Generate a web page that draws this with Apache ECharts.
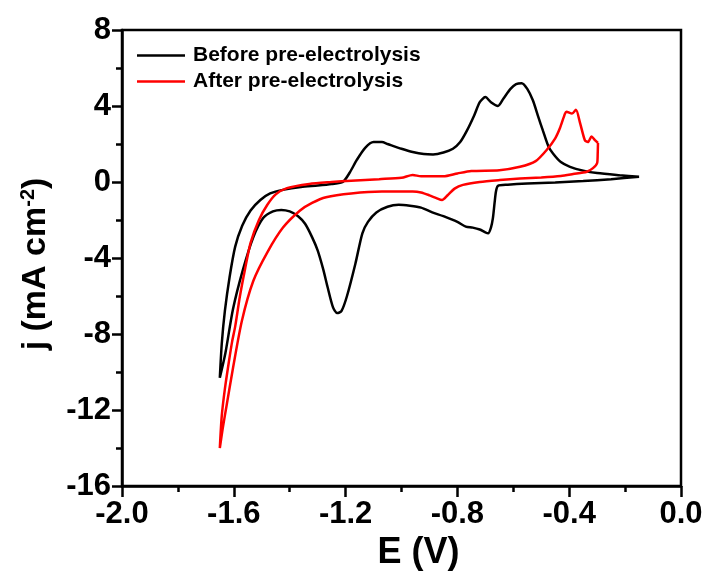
<!DOCTYPE html>
<html>
<head>
<meta charset="utf-8">
<script src="https://cdn.jsdelivr.net/npm/echarts@6/dist/echarts.min.js"></script>
<style>
html,body{margin:0;padding:0;background:#fff;}
#chart{width:707px;height:573px;}
</style>
</head>
<body>
<div id="chart"></div>
<script>
// ---- Data ----
const seriesNames = ['Before pre-electrolysis', 'After pre-electrolysis'];
const xTickLabels = ['-2.0', '-1.6', '-1.2', '-0.8', '-0.4', '0.0'];
const yTickLabels = ['-16', '-12', '-8', '-4', '0', '4', '8'];

// Before pre-electrolysis: potential E (V)
const beforeE = [
  -0.15, -0.25, -0.35, -0.45, -0.55, -0.62, -0.655, -0.662, -0.667, -0.673, -0.68, -0.69,
  -0.70, -0.72, -0.745, -0.77, -0.80, -0.85, -0.89, -0.93, -0.97, -1.01, -1.05, -1.09,
  -1.12, -1.14, -1.165, -1.195, -1.215, -1.23, -1.245, -1.265, -1.28, -1.30, -1.32, -1.345,
  -1.37, -1.40, -1.43, -1.46, -1.495, -1.53, -1.567, -1.603, -1.63, -1.65,
  -1.643, -1.632, -1.615, -1.595, -1.57, -1.54, -1.505, -1.47, -1.42, -1.36, -1.30, -1.25,
  -1.21, -1.185, -1.16, -1.13, -1.10, -1.07, -1.05, -1.00, -0.96, -0.92, -0.887, -0.85,
  -0.816, -0.79, -0.766, -0.74, -0.72, -0.70, -0.68, -0.655, -0.635, -0.61, -0.59, -0.57,
  -0.55, -0.53, -0.51, -0.494, -0.475, -0.458, -0.43, -0.397, -0.35, -0.30, -0.22, -0.15
];
// Before pre-electrolysis: current density j (mA cm-2)
const beforeJ = [
  0.28, 0.15, 0.05, -0.03, -0.08, -0.14, -0.2, -0.5, -1.1, -1.9, -2.4, -2.7,
  -2.65, -2.5, -2.4, -2.35, -2.1, -1.8, -1.6, -1.35, -1.25, -1.2, -1.3, -1.6,
  -2.1, -2.7, -4.3, -6.0, -6.8, -6.9, -6.6, -5.5, -4.6, -3.6, -2.9, -2.2,
  -1.8, -1.55, -1.47, -1.55, -1.9, -2.9, -4.6, -6.7, -9.0, -10.3,
  -8.5, -6.8, -5.0, -3.4, -2.3, -1.5, -0.95, -0.6, -0.4, -0.26, -0.18, -0.1,
  0.0, 0.5, 1.16, 1.8, 2.1, 2.1, 2.0, 1.75, 1.58, 1.47, 1.45, 1.55,
  1.75, 2.1, 2.7, 3.5, 4.2, 4.47, 4.2, 4.0, 4.4, 4.9, 5.15, 5.2,
  4.9, 4.3, 3.4, 2.7, 1.9, 1.5, 1.05, 0.8, 0.6, 0.47, 0.36, 0.28
];

// After pre-electrolysis: potential E (V)
const afterE = [
  -0.297, -0.298, -0.300, -0.315, -0.337, -0.386, -0.43, -0.50, -0.576, -0.648, -0.72, -0.78,
  -0.81, -0.835, -0.855, -0.875, -0.90, -0.93, -0.96, -1.07, -1.18, -1.27, -1.32, -1.363,
  -1.424, -1.48, -1.53, -1.571, -1.603, -1.625, -1.64, -1.65,
  -1.643, -1.632, -1.618, -1.606, -1.595, -1.578, -1.56, -1.54, -1.51, -1.48, -1.45, -1.41,
  -1.33, -1.25, -1.18, -1.08, -1.00, -0.96, -0.93, -0.85, -0.80, -0.75, -0.65, -0.576,
  -0.52, -0.48, -0.45, -0.433, -0.415, -0.41, -0.39, -0.376, -0.361, -0.344, -0.333, -0.32,
  -0.308, -0.297
];
// After pre-electrolysis: current density j (mA cm-2)
const afterJ = [
  2.05, 1.5, 1.0, 0.73, 0.54, 0.42, 0.32, 0.24, 0.18, 0.1, 0.0, -0.15,
  -0.35, -0.7, -0.95, -0.85, -0.7, -0.55, -0.5, -0.5, -0.6, -0.8, -1.1, -1.5,
  -2.4, -3.7, -5.2, -7.3, -9.8, -11.7, -13.0, -14.0,
  -12.3, -10.9, -9.5, -8.4, -7.6, -6.0, -4.6, -3.2, -2.0, -1.2, -0.65, -0.32,
  -0.1, 0.0, 0.07, 0.15, 0.22, 0.37, 0.3, 0.3, 0.45, 0.58, 0.62, 0.8,
  1.1, 1.7, 2.3, 2.84, 3.6, 3.7, 3.6, 3.8, 3.1, 2.2, 2.1, 2.4,
  2.2, 2.05
];

function zip(xs, ys) { return xs.map((x, i) => [x, ys[i]]); }

const FONT = '"Liberation Sans", Arial, sans-serif';
const chart = echarts.init(document.getElementById('chart'), null, { renderer: 'canvas' });

const option = {
  backgroundColor: '#ffffff',
  animation: false,
  grid: {
    left: 122, right: 26, top: 30, bottom: 87,
    show: true, borderColor: '#000', borderWidth: 2.5,
    outerBoundsMode: 'none'
  },
  legend: {
    orient: 'vertical',
    left: 137, top: 44, padding: 0,
    icon: 'rect',
    itemWidth: 48, itemHeight: 2.5, itemGap: 3,
    data: seriesNames,
    textStyle: { fontFamily: FONT, fontWeight: 'bold', fontSize: 21, color: '#000', lineHeight: 23, padding: [0, 0, 0, 3] }
  },
  xAxis: {
    type: 'value',
    min: -2, max: 0, interval: 0.4,
    name: 'E (V)',
    nameLocation: 'middle',
    nameGap: 47,
    nameTextStyle: { fontFamily: FONT, fontWeight: 'bold', fontSize: 36, color: '#000', padding: [0, 0, 0, 34] },
    axisLine: { onZero: false, lineStyle: { color: '#000', width: 2.5 } },
    axisTick: { show: true, inside: false, length: 11, lineStyle: { color: '#000', width: 2.5 } },
    minorTick: { show: true, splitNumber: 2, length: 6, lineStyle: { color: '#000', width: 2.5 } },
    splitLine: { show: false },
    axisLabel: {
      margin: 13,
      fontFamily: FONT, fontWeight: 'bold', fontSize: 31, color: '#000',
      formatter: function (v) { const i = Math.round((v + 2) / 0.4); return xTickLabels[i] !== undefined ? xTickLabels[i] : ''; }
    }
  },
  yAxis: {
    type: 'value',
    min: -16, max: 8, interval: 4,
    name: '{a|j (mA cm}{s|-2}{a|)}',
    nameLocation: 'middle',
    nameGap: 68,
    nameTextStyle: {
      padding: [0, 12, 0, 0],
      rich: {
        a: { fontFamily: FONT, fontWeight: 'bold', fontSize: 34, color: '#000' },
        s: { fontFamily: FONT, fontWeight: 'bold', fontSize: 20, color: '#000', verticalAlign: 'top', padding: [0, 0, 16, 0] }
      }
    },
    axisLine: { onZero: false, lineStyle: { color: '#000', width: 2.5 } },
    axisTick: { show: true, inside: false, length: 10, lineStyle: { color: '#000', width: 2.5 } },
    minorTick: { show: true, splitNumber: 2, length: 6, lineStyle: { color: '#000', width: 2.5 } },
    splitLine: { show: false },
    axisLabel: {
      margin: 11,
      fontFamily: FONT, fontWeight: 'bold', fontSize: 31, color: '#000',
      formatter: function (v) { const i = Math.round((v + 16) / 4); return yTickLabels[i] !== undefined ? yTickLabels[i] : ''; }
    }
  },
  series: [
    {
      name: seriesNames[0], type: 'line', data: zip(beforeE, beforeJ),
      showSymbol: false, symbol: 'none', smooth: 0.25,
      lineStyle: { color: '#000', width: 2.5 }, itemStyle: { color: '#000' }
    },
    {
      name: seriesNames[1], type: 'line', data: zip(afterE, afterJ),
      showSymbol: false, symbol: 'none', smooth: 0.25,
      lineStyle: { color: '#ff0000', width: 2.5 }, itemStyle: { color: '#ff0000' }
    }
  ]
};
chart.setOption(option);
</script>
</body>
</html>
